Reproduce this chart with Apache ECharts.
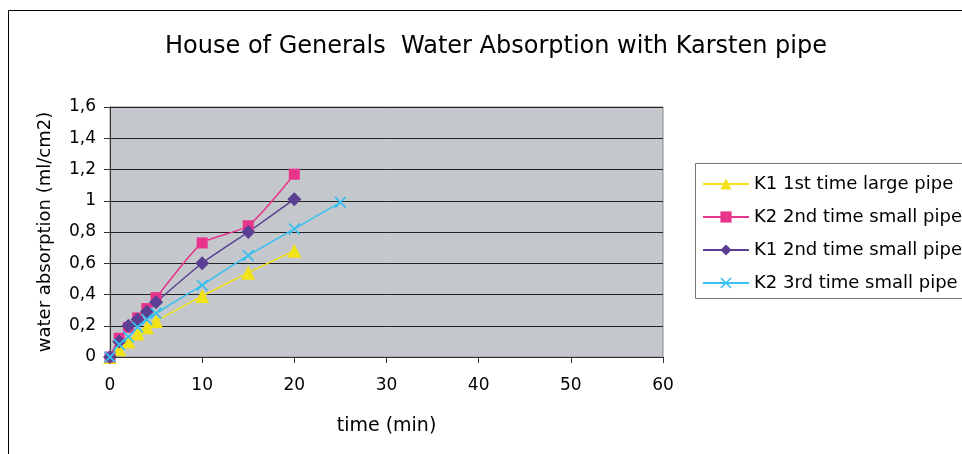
<!DOCTYPE html>
<html><head><meta charset="utf-8">
<script src="https://cdn.jsdelivr.net/npm/echarts@6/dist/echarts.min.js"></script>
<style>html,body{margin:0;padding:0;background:#fff}#c{width:962px;height:454px}</style>
</head><body><div id="c"></div>
<script>
const titleText = 'House of Generals  Water Absorption with Karsten pipe';
const xName = 'time (min)';
const yName = 'water absorption (ml/cm2)';
const seriesNames = ['K1 1st time large pipe','K2 2nd time small pipe','K1 2nd time small pipe','K2 3rd time small pipe'];
const timesA = [0,1,2,3,4,5,10,15,20];
const timesB = [0,1,2,3,4,5,10,15,20,25];
const k1Large = [0,0.05,0.10,0.15,0.19,0.23,0.39,0.54,0.68];
const k2Small2 = [0,0.12,0.19,0.25,0.31,0.38,0.73,0.84,1.17];
const k1Small2 = [0,0.10,0.20,0.24,0.29,0.35,0.60,0.80,1.01];
const k2Small3 = [0,0.08,0.13,0.19,0.24,0.28,0.46,0.65,0.82,0.99];
const colors = ['#f2e318','#e8358c','#5a3f94','#36bff0'];
const crossPath = 'path://M0,1 L1,0 L5,4 L9,0 L10,1 L6,5 L10,9 L9,10 L5,6 L1,10 L0,9 L4,5 Z';

const pair = (xs, ys) => xs.map((x, i) => [x, ys[i]]);
const font = 'DejaVu Sans, sans-serif';

const chart = echarts.init(document.getElementById('c'), null, {renderer:'canvas'});
chart.setOption({
  animation: false,
  backgroundColor: '#fff',
  title: {text: titleText, left: 491, textAlign: 'center', top: 30,
    textStyle: {fontFamily: font, fontSize: 24, fontWeight: 'normal', color: '#000'}},
  graphic: [
    {type: 'rect', shape: {x: 8.5, y: 10.5, width: 1000, height: 500}, style: {fill: 'none', stroke: '#000', lineWidth: 1}, z: -1},
    {type: 'rect', shape: {x: 695.5, y: 163.5, width: 300, height: 135}, style: {fill: '#fff', stroke: '#777', lineWidth: 1}, z: 0}
  ],
  legend: {
    left: 697, top: 170, orient: 'vertical', itemGap: 15, itemWidth: 46, itemHeight: 14,
    textStyle: {fontFamily: font, fontSize: 18, color: '#000'},
    z: 5
  },
  grid: {left: 110, top: 107, right: 299, bottom: 97, show: true, backgroundColor: '#c4c7cb', borderColor: '#888', borderWidth: 1},
  xAxis: {
    type: 'value', min: 0, max: 60, interval: 10,
    name: xName, nameLocation: 'middle', nameGap: 60,
    nameTextStyle: {fontFamily: font, fontSize: 19, color: '#000'},
    axisLine: {lineStyle: {color: '#333'}},
    axisTick: {show: true, length: 6, lineStyle: {color: '#333'}},
    axisLabel: {fontFamily: font, fontSize: 17, color: '#000', margin: 20},
    splitLine: {show: false}
  },
  yAxis: {
    type: 'value', min: 0, max: 1.6, interval: 0.2,
    name: yName, nameLocation: 'middle', nameGap: 56,
    nameTextStyle: {fontFamily: font, fontSize: 18, color: '#000'},
    axisLine: {show: true, lineStyle: {color: '#333'}},
    axisTick: {show: true, length: 6, lineStyle: {color: '#333'}},
    axisLabel: {fontFamily: font, fontSize: 17, color: '#000', margin: 14,
      formatter: v => String(Math.round(v*10)/10).replace('.', ',')},
    splitLine: {show: true, lineStyle: {color: '#222', width: 1}}
  },
  series: [
    {name: seriesNames[0], type: 'line', data: pair(timesA, k1Large), smooth: 0.2,
      symbol: 'triangle', symbolSize: 14, color: colors[0], lineStyle: {width: 1.5}},
    {name: seriesNames[1], type: 'line', data: pair(timesA, k2Small2), smooth: 0.2,
      symbol: 'rect', symbolSize: 11, color: colors[1], lineStyle: {width: 1.5}},
    {name: seriesNames[2], type: 'line', data: pair(timesA, k1Small2), smooth: 0.2,
      symbol: 'diamond', symbolSize: 14, color: colors[2], lineStyle: {width: 1.5}},
    {name: seriesNames[3], type: 'line', data: pair(timesB, k2Small3), smooth: 0.2,
      symbol: crossPath, symbolSize: 12, color: colors[3], lineStyle: {width: 1.5}}
  ]
});
</script></body></html>
